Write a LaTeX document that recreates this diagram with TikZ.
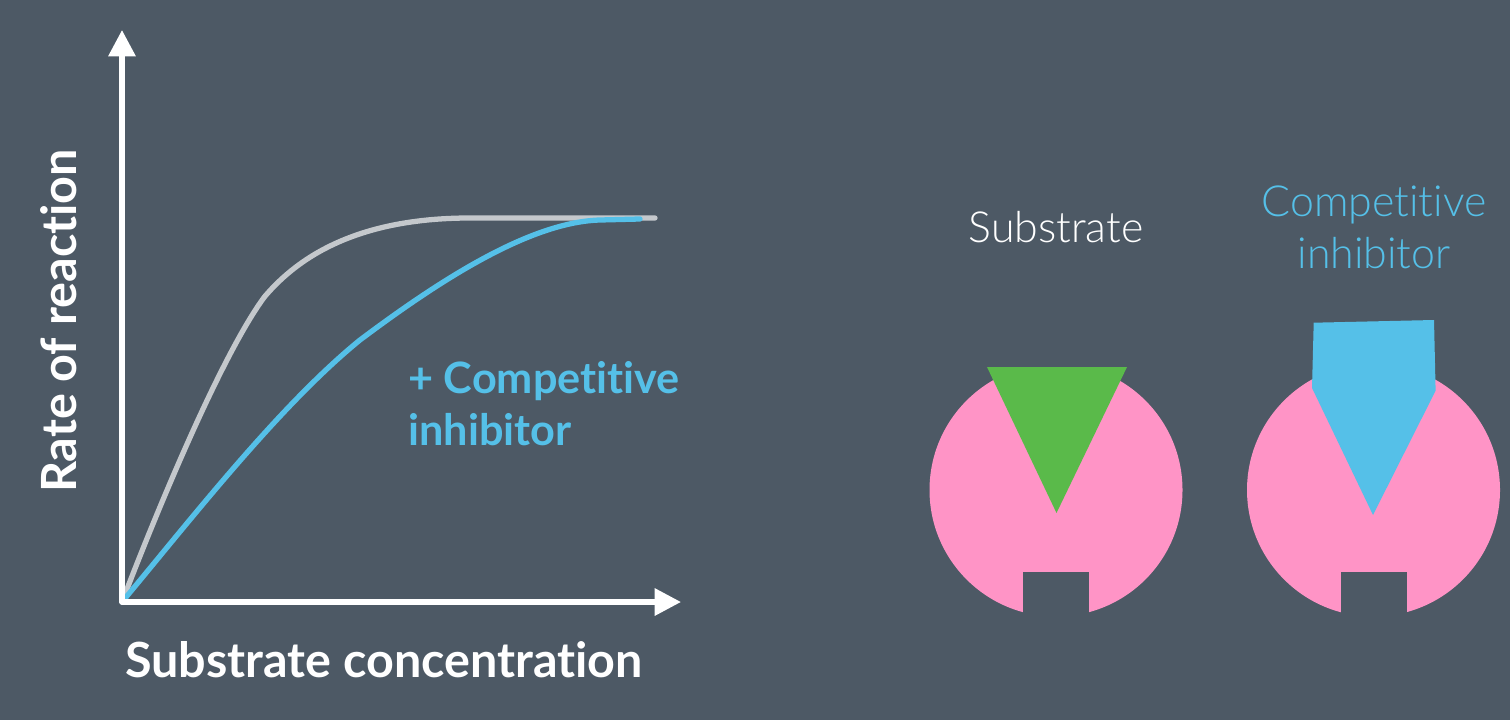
\documentclass[tikz,border=0pt]{standalone}
\usepackage{fontspec}
\setmainfont[Ligatures=NoCommon]{Lato}
\newfontfamily\lightlato[Ligatures=NoCommon]{Lato Light}
\usetikzlibrary{arrows.meta}
\definecolor{slidebg}{HTML}{4D5965}
\definecolor{enzymepink}{HTML}{FF94C6}
\definecolor{substrategreen}{HTML}{5ABA4A}
\definecolor{inhibitorblue}{HTML}{55C0E8}
\definecolor{curvegray}{HTML}{C4C8CC}
\tikzset{
  axisline/.style={draw=white, line width=3pt, -{Triangle[length=15pt, width=15pt]}},
  ratecurve/.style={line width=3pt, line cap=round},
  axislabel/.style={text=white, font=\bfseries\fontsize{27.6}{30}\selectfont, inner sep=0pt},
  curvelabel/.style={text=inhibitorblue, font=\bfseries\fontsize{24.6}{29.5}\selectfont, align=left, inner sep=0pt},
  keylabel/.style={font=\lightlato\fontsize{24.4}{29.5}\selectfont, align=center, inner sep=0pt},
}
\newcommand{\enzymeshape}[2]{%
  \begin{scope}
    \clip (#1-130,#2-123) rectangle (#1+130,#2+130);
    \fill[enzymepink] (#1,#2) circle[radius=126.5];
  \end{scope}
  \fill[slidebg] (#1-33,#2+82) rectangle (#1+33,#2+130);
}
\begin{document}
\begin{tikzpicture}[x=0.02cm, y=-0.02cm]
  \fill[slidebg] (0,0) rectangle (1510,720);
  % axes
  \coordinate (origin) at (122,602);
  \coordinate (yend) at (122,30);
  \coordinate (xend) at (681,602);
  \draw[ratecurve, curvegray] (origin) .. controls (165,490) and (225,350) .. (264.6,296.7)
    .. controls (300,255) and (360,218) .. (470,218) -- (655,218);
  \draw[ratecurve, inhibitorblue] (origin) .. controls (192,518) and (280,405) .. (360,340)
    .. controls (440,280) and (530,222) .. (600,220) -- (640,219);
  \draw[axisline, line cap=round] (origin) -- (yend);
  \draw[axisline, line cap=round] (origin) -- (xend);
  \node[axislabel, rotate=90] (ylabel) at (59,321) {Rate of reaction};
  \node[axislabel] (xlabel) at (384,660) {Substrate concentration};
  \node[curvelabel, anchor=west] (inhibcurve) at (408,404) {+ Competitive\\inhibitor};
  % enzyme with substrate
  \enzymeshape{1056}{490}
  \fill[substrategreen] (987,367) -- (1127,367) -- (1056.5,513) -- cycle;
  \node[keylabel, text=white] (substrate) at (1056,227) {Substrate};
  % enzyme with inhibitor
  \enzymeshape{1373.5}{490}
  \fill[inhibitorblue] (1313.7,322.7) -- (1434,320) -- (1435.6,390.7) -- (1373,515) -- (1312,388) -- cycle;
  \node[keylabel, text=inhibitorblue] (inhibitor) at (1374,227) {Competitive\\inhibitor};
\end{tikzpicture}
\end{document}
